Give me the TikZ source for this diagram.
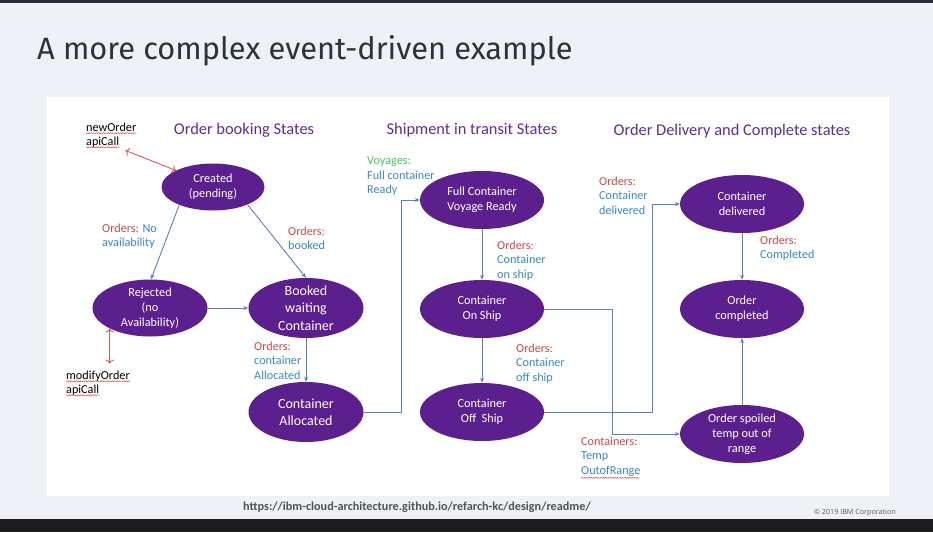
\documentclass[tikz,border=0pt]{standalone}
\usepackage{fontspec}
\setmainfont{Carlito}
\newfontfamily\titlefont{Fira Sans}
\newfontfamily\notefont{Open Sans}
\usetikzlibrary{shapes.geometric,arrows.meta,decorations.pathmorphing}
\definecolor{bgcol}{HTML}{EEF2F6}
\definecolor{topbar}{HTML}{262B3D}
\definecolor{botbar}{HTML}{1C1C1E}
\definecolor{titlegray}{HTML}{2B3539}
\definecolor{statepurple}{HTML}{5B1F8E}
\definecolor{headpurple}{HTML}{5E2E91}
\definecolor{lblred}{HTML}{C94A4A}
\definecolor{lblblue}{HTML}{3C87BE}
\definecolor{lblgreen}{HTML}{4CC25A}
\definecolor{flowblue}{HTML}{5F80B3}
\definecolor{apired}{HTML}{D9575A}
\newcommand{\redtxt}[1]{\textcolor{lblred}{#1}}

\begin{document}
\begin{tikzpicture}[x=1pt, y=-1pt, line join=round, line cap=round, >={Stealth[length=5pt,width=4pt]},
  state/.style={ellipse, fill=statepurple, text=white, align=center, inner xsep=0pt, inner ysep=-8pt,
    minimum width=124pt, minimum height=58pt, font=\fontsize{12.3}{15}\selectfont},
  bigstate/.style={state, minimum width=115pt, minimum height=60pt, font=\fontsize{14}{17.5}\selectfont},
  heading/.style={text=headpurple, font=\fontsize{16.4}{19}\selectfont},
  lbl/.style={anchor=north west, inner sep=0pt, align=left, text=lblblue, font=\fontsize{12.2}{14.7}\selectfont},
  apitxt/.style={anchor=west, inner sep=0pt, font=\fontsize{12.2}{14}\selectfont},
  flow/.style={->, draw=flowblue, line width=0.9pt},
  api/.style={{To[length=4pt]}-{To[length=4pt]}, draw=apired, line width=0.9pt},
  squig/.style={draw=apired, line width=0.5pt, decorate, decoration={snake, amplitude=0.6pt, segment length=2.4pt}}]
\useasboundingbox (0,0) rectangle (933,532);
\fill[bgcol] (0,0) rectangle (933,532);
\fill[topbar] (0,0) rectangle (933,3);
\fill[botbar] (0,519) rectangle (933,532);
\fill[white] (47,97) rectangle (889,496);

\node[anchor=base west, inner sep=0pt, text=titlegray, font=\titlefont\fontsize{30.8}{36}\selectfont] (title) at (37,60) {A more complex event-driven example};

\node[heading] (bookhead) at (244,130) {Order booking States};
\node[heading] (shiphead) at (472,130) {Shipment in transit States};
\node[heading] (delhead) at (732,131) {Order Delivery and Complete states};

\node[state, minimum width=103pt, minimum height=47pt] (created) at (213,187) {Created\\(pending)};
\node[state, minimum width=115pt, minimum height=57pt] (rejected) at (150,308) {Rejected\\(no\\Availability)};
\node[bigstate] (booked) at (306,308) {Booked\\waiting\\Container};
\node[bigstate] (alloc) at (306,412) {Container\\Allocated};
\node[state] (voyage) at (482,200) {Full Container\\Voyage Ready};
\node[state] (onship) at (482,309) {Container\\On Ship};
\node[state] (offship) at (482,412) {Container\\Off~ Ship};
\node[state] (delivered) at (742,204) {Container\\delivered};
\node[state] (completed) at (742,309) {Order\\completed};
\node[state] (spoiled) at (742,434) {Order spoiled\\temp out of\\range};

\node[lbl] (nolbl) at (102,223.5) {\redtxt{Orders:} No\\availability};
\node[lbl] (bookedlbl) at (288,226.5) {\redtxt{Orders:}\\booked};
\node[lbl] (alloclbl) at (254,341.5) {\redtxt{Orders:}\\container\\Allocated};
\node[lbl] (voylbl) at (367,156.5) {\textcolor{lblgreen}{Voyages:}\\Full container\\Ready};
\node[lbl] (onlbl) at (497,240.5) {\redtxt{Orders:}\\Container\\on ship};
\node[lbl] (offlbl) at (516,343.5) {\redtxt{Orders:}\\Container\\off ship};
\node[lbl] (templbl) at (581,436.5) {\redtxt{Containers:}\\Temp\\OutofRange};
\node[lbl] (dellbl) at (599,176.5) {\redtxt{Orders:}\\Container\\delivered};
\node[lbl] (donelbl) at (760,235.5) {\redtxt{Orders:}\\Completed};

\node[apitxt] (neworder) at (86,127) {newOrder};
\node[apitxt] (newcall) at (86,142) {apiCall};
\node[apitxt] (modorder) at (66,376) {modifyOrder};
\node[apitxt] (modcall) at (66,390) {apiCall};
\draw[squig] ([yshift=-2pt]neworder.base west) -- ([yshift=-2pt]neworder.base east);
\draw[squig] ([yshift=-2pt]newcall.base west) -- ([yshift=-2pt]newcall.base east);
\draw[squig] ([yshift=-2pt]modorder.base west) -- ([yshift=-2pt]modorder.base east);
\draw[squig] ([yshift=-2pt]modcall.base west) -- ([yshift=-2pt]modcall.base east);
\draw[squig] ([yshift=-1pt]templbl.south west) -- ++(59,0);

\draw[api] ([xshift=6pt,yshift=-3pt]newcall.south east) -- (created.156);
\draw[api, shorten >=7pt] (rejected.207) -- (rejected.207 |- modorder.north);

\draw[flow] (created.208) -- (rejected.88);
\draw[flow] (created.333) -- (booked.north);
\draw[flow] (rejected) -- (booked);
\draw[flow] (booked) -- (alloc);
\draw[flow] (alloc.east) -- ++(38,0) |- (voyage.west);
\draw[flow] (voyage) -- (onship);
\draw[flow] (onship) -- (offship);
\draw[flow] (onship.east) -- ++(68,0) |- (spoiled.west);
\draw[flow] (offship.east) -- ++(108,0) |- (delivered.west);
\draw[flow] (delivered) -- (completed);
\draw[flow] (spoiled) -- (completed);

\node[anchor=west, inner sep=0pt, text=black!68, font=\bfseries\fontsize{12.2}{14}\selectfont] (url) at (243,507) {https://ibm-cloud-architecture.github.io/refarch-kc/design/readme/};
\node[anchor=east, inner sep=0pt, text=black!65, font=\notefont\fontsize{7.2}{9}\selectfont] (copy) at (896,513) {© 2019 IBM Corporation};
\end{tikzpicture}
\end{document}
